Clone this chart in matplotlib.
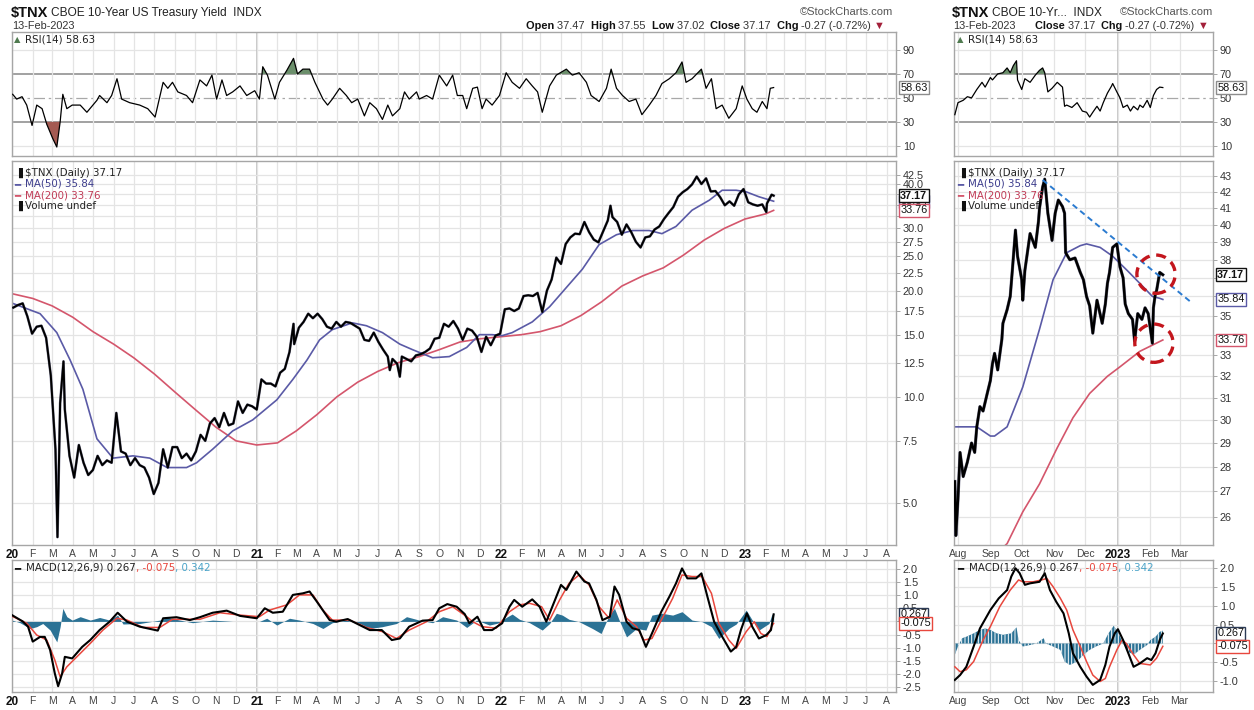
import numpy as np
import pandas as pd
import matplotlib
matplotlib.use("Agg")
import matplotlib.pyplot as plt
from matplotlib.ticker import NullLocator, NullFormatter

plt.rcParams["font.family"] = ["Liberation Sans", "DejaVu Sans"]
plt.rcParams["hatch.linewidth"] = 0.7

# ---------------- left chart: $TNX daily since 2020 (x = days after 2020-01-01) ----------------
left_base = "2020-01-01"
left_week_start = "2020-01-03"   # weekly (Friday) closes
left_close = [
    17.9, 18.2, 18.4, 16.9, 15.1, 15.8, 15.9, 14.7, 11.5, 7.1, 9.6, 9.2, 6.8, 5.9, 7.3, 6.5, 6.0,
    6.2, 6.8, 6.4, 6.6, 6.5, 9.0, 7.0, 6.9, 6.4, 6.7, 6.4, 6.3, 5.9, 5.3, 5.7, 7.1, 6.3, 7.2,
    7.2, 6.7, 6.9, 6.6, 7.0, 7.8, 7.5, 8.4, 8.7, 8.2, 9.0, 8.3, 8.4, 9.7, 9.0, 9.5, 9.4,
    9.2, 11.2, 10.9, 10.9, 10.7, 11.7, 12.0, 13.4, 14.1, 15.7, 16.3, 17.2, 16.7, 17.2, 16.6, 15.8,
    15.6, 16.3, 15.8, 16.3, 16.2, 15.9, 15.6, 14.5, 14.4, 15.2, 14.3, 13.6, 13.0, 12.8, 12.4, 13.0,
    12.8, 12.6, 13.1, 13.2, 13.4, 13.7, 14.6, 14.7, 16.1, 15.8, 16.4, 15.6, 14.5, 15.6, 15.4, 14.8,
    13.4, 14.8, 14.0, 14.9, 15.1,
    17.7, 17.8, 17.5, 17.8, 19.3, 19.4, 19.3, 19.7, 17.4, 20.0, 21.5, 24.8, 23.8, 27.1, 28.3, 29.0,
    28.9, 31.3, 29.3, 27.9, 27.4, 29.4, 31.6, 32.3, 31.3, 28.8, 30.8, 29.3, 27.5, 26.5, 28.3, 28.5,
    29.8, 30.4, 31.9, 33.2, 34.5, 36.9, 38.0, 38.8, 40.0, 42.1, 40.1, 41.6, 38.2, 38.3, 36.8, 34.9,
    35.8, 34.8, 37.5, 38.8,
    35.6, 35.1, 34.8, 35.1, 35.3, 37.4]
left_extra_day = [68, 77, 421, 565, 580, 895, 1128, 1139]
left_extra = [4.0, 12.6, 16.1, 11.9, 11.4, 34.8, 33.4, 37.17]

left_ma50_day = [1, 42, 67, 87, 106, 127, 151, 181, 206, 232, 261, 276, 300, 330, 360, 396, 420, 441,
                 460, 479, 509, 530, 554, 580, 599, 629, 654, 680, 699, 718, 733, 748, 778, 804, 829,
                 853, 878, 904, 928, 953, 972, 993, 1017, 1043, 1062, 1083, 1098, 1117, 1139]
left_ma50 = [18.4, 17.2, 15.2, 12.7, 10.5, 7.6, 6.7, 6.8, 6.7, 6.3, 6.3, 6.5, 7.1, 8.0, 8.6, 9.8, 11.2,
             12.7, 14.5, 15.5, 16.2, 15.9, 15.2, 14.1, 13.6, 12.9, 13.0, 13.8, 15.0, 15.0, 14.9, 15.2,
             16.3, 18.0, 20.4, 23.0, 27.0, 28.8, 29.6, 29.6, 29.0, 30.4, 33.8, 36.1, 38.5, 38.5, 38.1,
             36.9, 35.84]
left_ma200_day = [0, 31, 60, 91, 121, 152, 182, 213, 244, 274, 305, 335, 366, 397, 425, 456, 486, 517,
                  547, 578, 609, 639, 670, 700, 731, 762, 790, 821, 851, 882, 912, 943, 974, 1004,
                  1035, 1065, 1096, 1127, 1139]
left_ma200 = [19.6, 19.0, 18.1, 16.8, 15.3, 14.1, 12.9, 11.6, 10.3, 9.2, 8.2, 7.5, 7.3, 7.4, 8.0, 8.9,
              10.0, 11.0, 11.8, 12.5, 13.0, 13.6, 14.3, 14.6, 14.8, 15.0, 15.3, 15.9, 17.0, 18.6, 20.6,
              22.0, 23.2, 25.2, 27.8, 30.0, 31.9, 33.0, 33.76]

left_rsi_day = [1, 7, 15, 22, 30, 37, 45, 52, 61, 67, 72, 76, 82, 90, 102, 112, 127, 131, 142, 149,
                157, 164, 176, 191, 203, 214, 226, 233, 240, 248, 261, 270, 281, 291, 299, 306, 314,
                321, 330, 341, 351, 363, 370, 375, 382, 393, 400, 411, 421, 427, 435, 445, 453, 465,
                472, 479, 490, 500, 508, 517, 527, 535, 545, 554, 562, 569, 580, 587, 594, 605, 609,
                620, 629, 639, 650, 659, 666, 674, 680, 689, 696, 703, 709, 718, 729, 739, 748, 759,
                769, 778, 786, 793, 804, 814, 829, 838, 848, 859, 866, 878, 889, 896, 904, 913, 923,
                933, 942, 953, 963, 972, 983, 993, 1002, 1008, 1017, 1031, 1038, 1046, 1053, 1062,
                1072, 1083, 1092, 1099, 1107, 1114, 1122, 1129, 1134, 1139]
left_rsi = [53, 49, 51, 44, 27, 44, 41, 28, 16, 9, 30, 53, 41, 44, 44, 38, 48, 52, 46, 52,
            66, 49, 46, 44, 41, 34, 63, 58, 63, 55, 52, 46, 65, 60, 69, 49, 65, 52, 55, 60,
            52, 56, 49, 76, 69, 49, 63, 73, 83, 70, 74, 74, 63, 49, 44, 49, 58, 52, 46, 49,
            35, 46, 41, 32, 44, 35, 41, 55, 49, 55, 49, 52, 49, 69, 60, 69, 52, 52, 41, 58,
            59, 41, 49, 44, 52, 71, 63, 58, 66, 60, 55, 38, 60, 69, 74, 69, 71, 63, 52, 47,
            58, 74, 58, 52, 47, 49, 36, 44, 52, 62, 66, 71, 80, 63, 66, 74, 58, 66, 41, 44,
            33, 41, 60, 49, 41, 38, 47, 41, 58, 58.63]

left_macd_day = [0, 16, 24, 31, 42, 49, 57, 64, 69, 75, 79, 90, 105, 117, 131, 146, 158, 172, 191,
                 218, 226, 246, 266, 281, 300, 321, 341, 366, 378, 390, 405, 420, 435, 445, 456, 475,
                 485, 502, 520, 535, 553, 568, 580, 594, 614, 629, 639, 651, 665, 677, 684,
                 696, 706, 718, 733, 744, 751, 763, 778, 789, 799, 811, 821, 829, 844, 856, 863, 874,
                 883, 894, 901, 908, 919, 928, 938, 948, 957, 971, 983, 993, 1002, 1010, 1023, 1031,
                 1040, 1050, 1062, 1075, 1083, 1090, 1099, 1107, 1117, 1128, 1135, 1139]
left_macd = [0.24, 0.0, -0.2, -0.77, -0.59, -0.59, -1.09, -1.98, -2.47, -1.98, -1.35, -1.41, -0.97,
             -0.71, -0.33, -0.01, 0.33, -0.01, -0.2, -0.35, 0.12, 0.16, 0.05, 0.16, 0.33, 0.41, 0.21,
             0.12, 0.50, 0.33, 0.37, 1.01, 1.07, 1.14, 0.75, 0.05, -0.01, 0.09, -0.14, -0.33, -0.33,
             -0.71, -0.65, -0.20, 0.03, 0.05, 0.50, 0.66, 0.56, 0.28, -0.07,
             0.18, -0.33, -0.33, -0.07, 0.56, 0.82, 0.56, 0.84, 0.56, -0.01, 0.75, 1.39, 1.20, 1.90,
             1.52, 1.45, 0.82, 0.05, 0.18, 1.33, 1.01, -0.01, -0.26, -0.33, -0.97, -0.46, 0.37, 0.94,
             1.45, 2.02, 1.64, 1.64, 1.83, 0.94, -0.01, -0.58, -1.15, -0.97, -0.33, 0.31, -0.20,
             -0.65, -0.52, -0.33, 0.267]
left_signal_day = [0, 22, 37, 52, 64, 72, 82, 97, 117, 136, 157, 172, 196, 221, 240, 281, 311, 341,
                   370, 385, 411, 430, 450, 465, 479, 505, 530, 554, 575, 594, 620, 639, 659, 680,
                   689, 703, 724, 744, 759, 774, 792, 804, 819, 833, 848, 863, 878, 893, 905, 919,
                   934, 945, 957, 971, 988, 1002, 1017, 1032, 1046, 1057, 1072, 1083, 1098, 1110,
                   1120, 1129, 1136, 1139]
left_signal = [0.20, -0.07, -0.52, -0.71, -1.47, -2.11, -1.73, -1.35, -0.84, -0.33, 0.12, 0.05, -0.23,
               -0.23, 0.08, 0.08, 0.33, 0.24, 0.18, 0.43, 0.63, 1.01, 1.01, 0.43, 0.05, 0.05, -0.23,
               -0.39, -0.65, -0.33, -0.01, 0.37, 0.56, 0.18,
               -0.01, -0.20, -0.26, 0.37, 0.63, 0.69, 0.56, 0.05, 0.82, 1.45, 1.77, 1.39, 0.56, 0.12,
               0.82, 0.12, -0.20, -0.71, -0.65, 0.05, 0.88, 1.77, 1.71, 1.71, 1.07, -0.07, -0.71,
               -1.03, -0.39, -0.01, -0.46, -0.58, -0.20, -0.075]
left_hist_day = [0, 12, 27, 37, 46, 57, 67, 72, 76, 82, 90, 102, 117, 131, 146, 158, 166, 191, 221,
                 232, 251, 270, 300, 330, 370, 381, 396, 415, 430, 450, 465, 479, 500, 520, 535, 554,
                 575, 590, 609, 629, 644, 665, 680,
                 695, 714, 729, 739, 748, 759, 774, 793, 804, 814, 823, 833, 848, 868, 881, 893, 901,
                 908, 919, 934, 948, 957, 972, 988, 1002, 1017, 1032, 1046, 1057, 1072, 1083, 1098,
                 1107, 1117, 1132, 1136, 1139]
left_hist = [0.05, -0.05, -0.27, -0.2, -0.08, -0.33, -0.78, -0.2, 0.5, 0.18, 0.05, 0.18, 0.05, 0.15,
             0.05, 0.24, -0.10, -0.08, 0.05, 0.15, 0.05, -0.05, 0.05, 0.0, 0.0, 0.12, -0.14, 0.12,
             0.05, -0.08, -0.27, -0.05, 0.05, -0.08, -0.27, -0.20, -0.08, 0.18, 0.05, -0.05, 0.18,
             0.05, -0.23,
             0.05, -0.14, -0.05, 0.15, 0.28, 0.08, -0.05, -0.33, -0.08, 0.31, 0.24, 0.08, -0.01,
             -0.27, -0.46, 0.24, 0.50, 0.05, -0.59, -0.27, -0.33, 0.24, 0.31, 0.24, 0.37, 0.05,
             -0.01, -0.20, -0.65, -0.27, -0.10, 0.43, 0.05, -0.33, -0.08, 0.24, 0.342]

# ---------------- right chart: Aug 2022 - Feb 2023 (x = days after 2022-08-01) ----------------
right_base = "2022-08-01"
right_price_day = [-3, -2, 0, 2, 5, 9, 13, 16, 18, 21, 24, 28, 31, 33, 35, 38, 42, 43, 47, 50, 52, 55,
                   57, 61, 62, 64, 69, 74, 77, 78, 81, 83, 86, 90, 93, 96, 100, 102, 103, 107, 112,
                   117, 120, 123, 126, 129, 133, 138, 141, 143, 145, 148, 152, 155, 158, 160, 163,
                   167, 169, 172, 176, 179, 182, 186, 187, 189, 190, 193, 196]
right_price = [27.4, 25.3, 26.7, 28.6, 27.6, 28.2, 29.0, 28.6, 29.7, 30.6, 30.4, 31.2, 31.8, 32.6,
               33.1, 32.3, 33.8, 34.6, 35.3, 36.0, 37.4, 39.7, 38.2, 36.9, 35.8, 37.4, 39.5, 38.7,
               40.2, 41.0, 42.3, 42.8, 40.7, 39.1, 40.7, 41.5, 41.1, 40.7, 38.4, 38.0, 38.1, 37.3,
               36.9, 36.0, 35.5, 34.1, 35.8, 34.6, 35.6, 36.7, 37.3, 38.7, 38.9, 37.6, 37.0, 35.6,
               35.1, 34.8, 33.7, 35.1, 34.8, 35.4, 35.1, 33.6, 35.4, 36.2, 36.3, 37.3, 37.17]
right_ma50_day = [-3, 18, 31, 35, 47, 62, 78, 91, 104, 117, 123, 136, 148, 162, 174, 186, 193, 196]
right_ma50 = [29.7, 29.7, 29.3, 29.3, 29.7, 31.5, 34.3, 36.9, 38.4, 38.8, 38.9, 38.7, 38.2, 37.4,
              36.7, 36.0, 35.9, 35.84]
right_ma200_day = [30, 47, 62, 78, 95, 110, 126, 143, 155, 174, 196]
right_ma200 = [24.4, 25.0, 26.2, 27.3, 28.8, 30.1, 31.2, 32.0, 32.45, 33.2, 33.76]
right_rsi_day = [-3, 0, 5, 9, 13, 18, 23, 26, 31, 33, 38, 43, 47, 50, 53, 56, 57, 61, 64, 69, 74, 78,
                 81, 83, 86, 90, 95, 100, 102, 104, 109, 114, 119, 123, 126, 129, 133, 136, 139, 143,
                 147, 148, 152, 155, 158, 162, 165, 168, 172, 174, 177, 181, 184, 187, 190, 193, 196]
right_rsi = [36, 46, 48, 51, 50, 57, 63, 59, 67, 65, 70, 71, 75, 71, 77, 81, 65, 57, 66, 63, 69, 73,
             75, 71, 55, 58, 63, 59, 43, 44, 42, 46, 39, 38, 34, 38, 43, 39, 46, 54, 60, 62, 55, 50,
             42, 44, 39, 43, 40, 44, 42, 48, 42, 52, 57, 59, 58.63]
right_macd_day = [-3, 2, 8, 15, 21, 31, 39, 47, 51, 55, 59, 64, 69, 78, 83, 88, 94, 101, 106, 110,
                  117, 123, 129, 136, 141, 145, 150, 153, 158, 163, 168, 174, 181, 185, 189, 193, 196]
right_macd = [-0.97, -0.84, -0.62, -0.08, 0.40, 0.89, 1.20, 1.42, 1.78, 2.0, 1.87, 1.56, 1.60, 1.64,
              1.87, 1.42, 1.11, 0.80, 0.27, -0.26, -0.62, -0.88, -1.10, -0.97, -0.57, -0.08, 0.27,
              0.38, 0.09, -0.26, -0.62, -0.53, -0.39, -0.44, -0.26, 0.09, 0.267]
right_signal_day = [-3, 2, 8, 15, 24, 31, 40, 50, 58, 62, 72, 80, 85, 91, 98, 104, 110, 117, 123, 129,
                    136, 141, 145, 152, 157, 161, 168, 174, 184, 190, 196]
right_signal = [-0.62, -0.75, -0.70, -0.48, 0.09, 0.45, 0.98, 1.42, 1.69, 1.64, 1.64, 1.69, 1.73, 1.51,
                1.20, 0.89, 0.36, -0.08, -0.48, -0.84, -1.01, -0.93, -0.62, -0.17, 0.09, 0.00,
                -0.30, -0.53, -0.57, -0.39, -0.075]
right_hist_day = [-3, 0, 4, 8, 15, 21, 26, 31, 37, 43, 51, 56, 58, 62, 69, 75, 82, 84, 91, 98, 102,
                  107, 114, 120, 126, 132, 139, 144, 149, 153, 158, 163, 168, 174, 181, 184, 189, 193,
                  196]
right_hist = [-0.30, -0.08, 0.14, 0.18, 0.27, 0.36, 0.40, 0.36, 0.27, 0.23, 0.27, 0.43, 0.09, -0.08,
              -0.04, 0.0, 0.14, 0.0, -0.08, -0.17, -0.48, -0.57, -0.48, -0.30, -0.17, -0.08, 0.0,
              0.27, 0.47, 0.31, 0.0, -0.22, -0.30, -0.17, -0.04, 0.09, 0.18, 0.31, 0.342]
right_trend_day = [81, 224]
right_trend = [42.75, 35.65]
right_circle_day = [189.5, 187.5]
right_circle = [37.2, 33.6]

# ---------------- drawing ----------------
W, H = 1254, 710
GRID = "#e4e4e4"
YEARLINE = "#b8b8b8"
SPINE = "#a6a6a6"
NAVY = "#5a5aa6"
MA200C = "#d4566c"
TEAL = "#2b7295"
SIGC = "#e8473d"
RSI_HI = "#6b8f6b"
RSI_LO = "#a45a52"

fig = plt.figure(figsize=(W / 100, H / 100), dpi=100)
fig.patch.set_facecolor("white")


def dates(base, days):
    return pd.Timestamp(base) + pd.to_timedelta(np.asarray(days, dtype=float), unit="D")


def px_axes(x0, y0, x1, y1):
    return fig.add_axes([x0 / W, 1 - y1 / H, (x1 - x0) / W, (y1 - y0) / H])


def ptext(x, y, s, **kw):
    kw.setdefault("va", "center")
    return fig.text(x / W, 1 - y / H, s, **kw)


def multi_text(x, y, pieces, **kw):
    r = fig.canvas.get_renderer()
    for s, c, wgt in pieces:
        t = ptext(x, y, s, color=c, fontweight=wgt, **kw)
        x += t.get_window_extent(renderer=r).width


def style(ax):
    for s in ax.spines.values():
        s.set_color(SPINE)
        s.set_linewidth(1.0)
    ax.yaxis.tick_right()
    ax.tick_params(axis="y", length=3, width=0.6, color="#999999", labelsize=7.8,
                   labelcolor="#333333", pad=2)
    ax.tick_params(axis="x", length=0, labelsize=7.5, labelcolor="#444444", pad=3)


def month_axis(ax, months, xlim, labeler, show):
    ax.set_xticks(months)
    ax.set_xlim(*xlim)
    ax.grid(axis="x", color=GRID, lw=0.9, zorder=0)
    for m in months:
        if m.month == 1:
            ax.axvline(m, color=YEARLINE, lw=1.1, zorder=0.6)
    if show:
        ax.set_xticklabels([labeler(m) for m in months])
        for lab, m in zip(ax.get_xticklabels(), months):
            if m.month == 1:
                lab.set_fontweight("bold")
                lab.set_color("#111111")
                lab.set_fontsize(8.5)
    else:
        ax.set_xticklabels([])


def tag(ax, val, txt, ec, bold=False):
    ax.annotate(txt, xy=(1.0, val), xycoords=("axes fraction", "data"), xytext=(3, 0),
                textcoords="offset points", ha="left", va="center", fontsize=7.8,
                fontweight="bold" if bold else "normal", color="#111111",
                bbox=dict(boxstyle="square,pad=0.12", fc="white", ec=ec, lw=1.0),
                annotation_clip=False, zorder=20)


def tick_text(vals, fmt, hidden):
    # labels that sit under the value tags are left blank, as on the original
    return ["" if v in hidden else fmt % v for v in vals]


RSI_Y, PRICE_Y, MACD_Y = (32, 156), (161, 545), (560, 692)


def draw_chart(xr, months, xlim, labeler, price, ma50, ma200, rsi, macd, sig, hist,
               plim, pticks, pfmt, phidden, mlim, mticks, mhidden, price_lw, hatch=None):
    ax_r = px_axes(xr[0], RSI_Y[0], xr[1], RSI_Y[1])
    ax_p = px_axes(xr[0], PRICE_Y[0], xr[1], PRICE_Y[1])
    ax_m = px_axes(xr[0], MACD_Y[0], xr[1], MACD_Y[1])
    for ax, show in ((ax_r, False), (ax_p, True), (ax_m, True)):
        style(ax)
        month_axis(ax, months, xlim, labeler, show)

    # RSI
    rx, ry = rsi
    ry = np.asarray(ry, dtype=float)
    ax_r.fill_between(rx, ry, 70, where=ry >= 70, interpolate=True, color=RSI_HI, lw=0, zorder=2)
    ax_r.fill_between(rx, ry, 30, where=ry <= 30, interpolate=True, color=RSI_LO, lw=0, zorder=2)
    ax_r.plot(rx, ry, color="black", lw=0.9, zorder=3)
    for lvl in (30, 70):
        ax_r.axhline(lvl, color="#9a9a9a", lw=1.3, zorder=1)
    ax_r.axhline(50, color="#a8a8a8", lw=0.9, ls=(0, (9, 3, 2, 3)), zorder=1)
    for lvl in (10, 90):
        ax_r.axhline(lvl, color=GRID, lw=0.9, zorder=0)
    ax_r.set_ylim(1.5, 105)
    ax_r.set_yticks([10, 30, 50, 70, 90])

    # price
    ax_p.set_yscale("log")
    ax_p.plot(*ma200, color=MA200C, lw=1.2, zorder=2)
    ax_p.plot(*ma50, color=NAVY, lw=1.2, zorder=2)
    ax_p.plot(*price, color="#10103a", lw=price_lw + 0.5, zorder=3, alpha=0.55)
    ax_p.plot(*price, color="black", lw=price_lw, zorder=3)
    ax_p.set_ylim(*plim)
    ax_p.set_yticks(pticks)
    ax_p.set_yticklabels(tick_text(pticks, pfmt, phidden))
    ax_p.yaxis.set_minor_locator(NullLocator())
    ax_p.yaxis.set_minor_formatter(NullFormatter())
    ax_p.grid(axis="y", color=GRID, lw=0.9, zorder=0)

    # MACD
    hx, hy = hist
    kw = dict(color=TEAL, lw=0, zorder=2)
    if hatch:
        kw.update(hatch=hatch, edgecolor="white")
    ax_m.fill_between(hx, 0, hy, **kw)
    ax_m.plot(*sig, color=SIGC, lw=1.1, zorder=3)
    ax_m.plot(*macd, color="black", lw=1.5, zorder=4)
    ax_m.set_ylim(*mlim)
    ax_m.set_yticks(mticks)
    ax_m.set_yticklabels(tick_text(mticks, "%.1f", mhidden))
    ax_m.grid(axis="y", color=GRID, lw=0.9, zorder=0)
    return ax_r, ax_p, ax_m


# left chart
lwk = pd.Series(left_close, index=pd.date_range(left_week_start, periods=len(left_close), freq="W-FRI"))
lex = pd.Series(left_extra, index=dates(left_base, left_extra_day))
lprice = pd.concat([lwk, lex]).sort_index()

l_ticks = [5.0, 7.5, 10.0, 12.5, 15.0, 17.5, 20.0, 22.5, 25.0, 27.5, 30.0, 32.5, 35.0, 37.5, 40.0, 42.5]
L = draw_chart(
    (12, 896), pd.date_range("2020-01-01", "2023-08-01", freq="MS"),
    dates(left_base, [0, 1322]),
    lambda m: m.strftime("%y") if m.month == 1 else m.strftime("%b")[0],
    (lprice.index, lprice.values),
    (dates(left_base, left_ma50_day), left_ma50),
    (dates(left_base, left_ma200_day), left_ma200),
    (dates(left_base, left_rsi_day), left_rsi),
    (dates(left_base, left_macd_day), left_macd),
    (dates(left_base, left_signal_day), left_signal),
    (dates(left_base, left_hist_day), left_hist),
    (3.80, 46.6), l_ticks, "%.1f", (32.5, 35.0, 37.5),
    (-2.69, 2.34), [-2.5, -2.0, -1.5, -1.0, -0.5, 0.0, 0.5, 1.0, 1.5, 2.0], (0.0,), 1.4)

# right chart
R = draw_chart(
    (954, 1213), pd.date_range("2022-08-01", "2023-03-01", freq="MS"),
    dates(right_base, [-3.8, 244]),
    lambda m: m.strftime("%Y") if m.month == 1 else m.strftime("%b"),
    (dates(right_base, right_price_day), right_price),
    (dates(right_base, right_ma50_day), right_ma50),
    (dates(right_base, right_ma200_day), right_ma200),
    (dates(right_base, right_rsi_day), right_rsi),
    (dates(right_base, right_macd_day), right_macd),
    (dates(right_base, right_signal_day), right_signal),
    (dates(right_base, right_hist_day), right_hist),
    (24.95, 43.96), list(range(26, 44)), "%d", (34, 36, 37),
    (-1.29, 2.22), [-1.0, -0.5, 0.0, 0.5, 1.0, 1.5, 2.0], (0.0,), 1.8, hatch="|||||")

# trendline and circles on the right price panel
R[1].plot(dates(right_base, right_trend_day), right_trend, color="#2b7bd0", lw=1.4,
          ls=(0, (3, 2)), zorder=5)
R[1].scatter(dates(right_base, right_circle_day), right_circle, s=760, facecolors="none",
             edgecolors="#c3161d", linewidths=2.4, linestyle=(0, (3, 2)), zorder=6)

# value tags
for (ax_r, ax_p, ax_m) in (L, R):
    tag(ax_r, 58.63, "58.63", "#8c8c8c")
    tag(ax_p, 35.84, "35.84", NAVY)
    tag(ax_p, 37.17, "37.17", "#111111", bold=True)
    tag(ax_p, 33.76, "33.76", MA200C)
    tag(ax_m, 0.267, "0.267", "#2b3a55")
    tag(ax_m, -0.075, "-0.075", SIGC)

# headers
for x0, x1, name in ((11, 893, "CBOE 10-Year US Treasury Yield  INDX"), (952, 1213, "CBOE 10-Yr...  INDX")):
    ptext(x0, 13, "$TNX", fontsize=10.5, fontweight="bold", color="#111111")
    ptext(x0 + 40, 13, name, fontsize=8.6, color="#222222")
    ptext(x0 + 1, 26, "13-Feb-2023", fontsize=7.8, color="#333333")
    ptext(x1, 12, "\u00a9StockCharts.com", fontsize=8, color="#555555", ha="right")

multi_text(526, 26, [("Open ", "#111", "bold"), ("37.47  ", "#333", "normal"),
                     ("High ", "#111", "bold"), ("37.55  ", "#333", "normal"),
                     ("Low ", "#111", "bold"), ("37.02  ", "#333", "normal"),
                     ("Close ", "#111", "bold"), ("37.17  ", "#333", "normal"),
                     ("Chg ", "#111", "bold"), ("-0.27 (-0.72%) ", "#333", "normal"),
                     ("\u25bc", "#a3203a", "normal")], fontsize=7.9)
multi_text(1035, 26, [("Close ", "#111", "bold"), ("37.17  ", "#333", "normal"),
                      ("Chg ", "#111", "bold"), ("-0.27 (-0.72%) ", "#333", "normal"),
                      ("\u25bc", "#a3203a", "normal")], fontsize=7.8)

# panel legends
LEG = dict(fontsize=7.4, family=["DejaVu Sans"])
for x0 in (14, 957):
    ptext(x0, 40, "\u25b2", color="#4f7a4f", fontsize=6, family=["DejaVu Sans"])
    ptext(x0 + 11, 40, "RSI(14) 58.63", color="#222222", **LEG)
    ptext(x0, 173, "\u2590", color="#111111", **LEG)
    ptext(x0 + 11, 173, "$TNX (Daily) 37.17", color="#222222", **LEG)
    ptext(x0, 184, "\u2501", color=NAVY, **LEG)
    ptext(x0 + 11, 184, "MA(50) 35.84", color="#3c3c8c", **LEG)
    ptext(x0, 195, "\u2501", color=MA200C, **LEG)
    ptext(x0 + 11, 195, "MA(200) 33.76", color="#c03a55", **LEG)
    ptext(x0, 206, "\u2590", color="#111111", **LEG)
    ptext(x0 + 11, 206, "Volume undef", color="#222222", **LEG)
    ptext(x0, 568, "\u2501", color="#111111", **LEG)
    multi_text(x0 + 12, 568, [("MACD(12,26,9) 0.267", "#222222", "normal"),
                              (", -0.075", SIGC, "normal"), (", 0.342", "#4aa3c8", "normal")],
               **LEG)

fig.savefig("out.png", dpi=100, facecolor="white")
